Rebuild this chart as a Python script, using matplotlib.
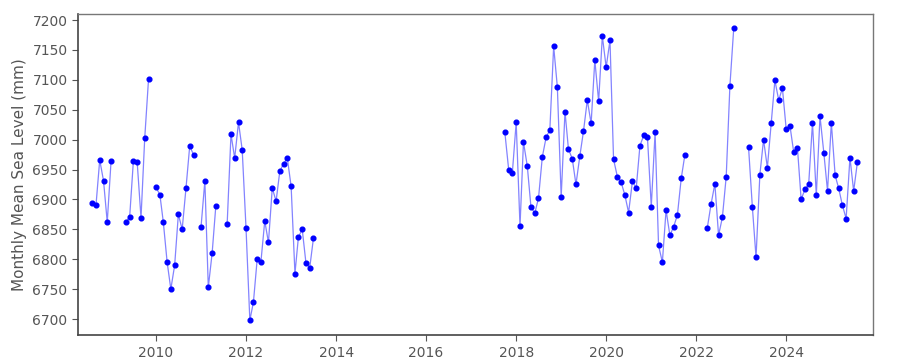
import numpy as np
import pandas as pd
import matplotlib
matplotlib.use("Agg")
import matplotlib.pyplot as plt
import matplotlib.dates as mdates

# Segments of consecutive monthly values (start month, values)
seg_starts = ["2008-08", "2009-05", "2010-01", "2011-01", "2011-08",
              "2017-10", "2022-04", "2023-03"]
seg_values = [
    [6894, 6891, 6966, 6931, 6862, 6964],
    [6862, 6871, 6964, 6962, 6869, 7002, 7101],
    [6920, 6908, 6862, 6795, 6750, 6790, 6875, 6850, 6919, 6989, 6975],
    [6854, 6931, 6753, 6810, 6889],
    [6859, 7009, 6969, 7029, 6983,
     6852, 6698, 6728, 6801, 6796, 6864, 6828, 6919, 6897, 6947, 6960, 6969,
     6922, 6776, 6837, 6850, 6794, 6786, 6835],
    [7012, 6950, 6945,
     7029, 6855, 6996, 6956, 6887, 6877, 6902, 6971, 7004, 7016, 7156, 7088,
     6904, 7047, 6984, 6968, 6925, 6972, 7014, 7066, 7027, 7133, 7064, 7173,
     7121, 7166, 6967, 6938, 6929, 6907, 6878, 6930, 6919, 6990, 7007, 7004,
     6888, 7012, 6823, 6795, 6882, 6840, 6854, 6874, 6935, 6975],
    [6853, 6892, 6926, 6840, 6870, 6938, 7090, 7186],
    [6988, 6888, 6803, 6941, 7000, 6953, 7027, 7099, 7066, 7086,
     7017, 7022, 6980, 6986, 6900, 6917, 6925, 7028, 6907, 7039, 6978, 6914,
     7028, 6940, 6919, 6890, 6868, 6970, 6914, 6963],
]
y_ticks = [6700, 6750, 6800, 6850, 6900, 6950, 7000, 7050, 7100, 7150, 7200]
x_tick_years = [2010, 2012, 2014, 2016, 2018, 2020, 2022, 2024]

# Build monthly series with NaN in gaps
series = []
for s, vals in zip(seg_starts, seg_values):
    idx = pd.date_range(s, periods=len(vals), freq="MS")
    series.append(pd.Series(vals, index=idx, dtype=float))
full = pd.concat(series)
all_idx = pd.date_range(full.index.min(), full.index.max(), freq="MS")
full = full.reindex(all_idx)

fig = plt.figure(figsize=(9, 3.6), dpi=100)
ax = fig.add_axes([0.0867, 0.069, 0.8833, 0.892])

ax.plot(full.index, full.values, color=(0.35, 0.35, 1.0), alpha=0.75, lw=0.9, zorder=2)
ax.plot(full.index, full.values, 'o', color='#0000ff', ms=3.4, mec='#0000ff', zorder=3, ls='none')

ax.set_xlim(pd.Timestamp("2008-04-08"), pd.Timestamp("2025-12-05"))
ax.set_ylim(6673, 7210)
ax.set_yticks(y_ticks)
ax.set_xticks([pd.Timestamp(f"{y}-01-01") for y in x_tick_years])
ax.xaxis.set_major_formatter(mdates.DateFormatter("%Y"))

ax.set_ylabel("Monthly Mean Sea Level (mm)", fontsize=11, color='#555555')
ax.tick_params(axis='both', labelsize=10, colors='#555555', length=4, width=0.8, direction='out')
for side in ['left', 'bottom']:
    ax.spines[side].set_color('#444444')
    ax.spines[side].set_linewidth(1.2)
for side in ['top', 'right']:
    ax.spines[side].set_color('#777777')
    ax.spines[side].set_linewidth(1.0)

fig.savefig("out.png", dpi=100)
